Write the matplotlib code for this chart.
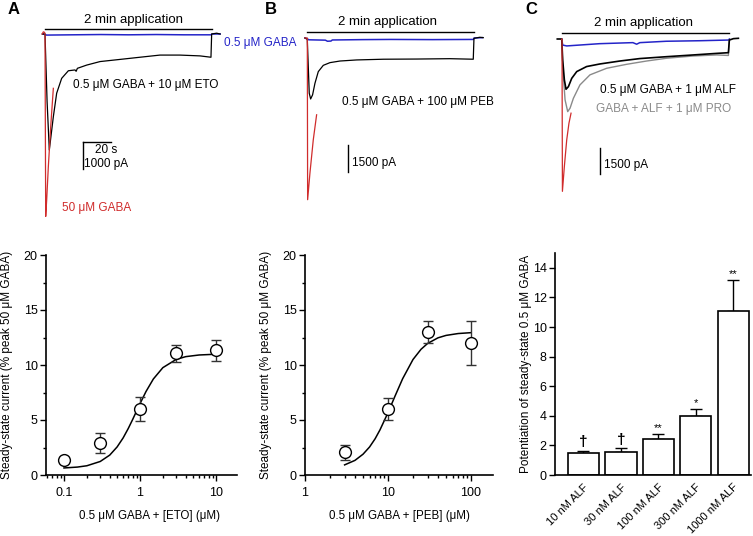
import matplotlib
matplotlib.use("Agg")
import matplotlib.pyplot as plt
from matplotlib.ticker import LogLocator, MultipleLocator, NullFormatter, FixedLocator, FixedFormatter

plt.rcParams['font.family'] = ['Liberation Sans', 'DejaVu Sans']
plt.rcParams['font.size'] = 8

W, H = 753, 536

BLUE = '#2424c8'
RED = '#d02c2c'
GREY = '#8a8a8a'

# ---- current traces: time (s), current (pA) ----
# panel A
a_blk_t = [-2, 0, 1.5, 3.1, 6.0, 8.4, 12.0, 16.8, 21.6, 22.4, 23.3, 30.0, 39.6, 54, 68.3, 82.7, 97, 111.5, 119.4, 119.9, 123.5, 126]
a_blk_i = [0, 0, -2500, -4290, -3060, -2190, -1640, -1360, -1330, -1380, -1270, -1150, -1020, -940, -860, -780, -780, -810, -860, 0, 30, 0]
a_red_t = [-2, -1.2, -0.3, 0, 0.5, 1.2, 2.4, 4.1, 6.0]
a_red_i = [0, 80, 60, 0, -6750, -6140, -4910, -3430, -2010]
a_blu_t = [-1.5, 0, 1, 20, 40, 60, 80, 100, 119.5, 120, 126]
a_blu_i = [0, -10, -40, -30, -20, -30, -20, -30, -30, 0, 0]

# panel B
b_blk_t = [-1.7, 0, 0.7, 1.4, 2.4, 3.8, 5.5, 7.9, 11.5, 16.3, 23.5, 35.5, 54.7, 78.7, 102.6, 119.4, 119.9, 124, 126.6]
b_blk_i = [0, -70, -1590, -3070, -3390, -3160, -2520, -1870, -1520, -1370, -1280, -1220, -1180, -1170, -1150, -1180, -20, 40, 20]
b_red_t = [-1.7, 0, 0.24, 1.9, 4.3, 6.7]
b_red_i = [0, 0, -8990, -7510, -5660, -4270]
b_blu_t = [-1.7, 0, 1, 13, 14.5, 17, 18, 40, 60, 90, 119.5, 120, 126]
b_blu_i = [0, -40, -100, -120, -180, -170, -110, -90, -80, -90, -80, 0, 20]

# panel C
c_blk_t = [-3.4, -0.2, 0.5, 1.7, 2.9, 4.6, 7.0, 10.6, 17.7, 27.3, 41.7, 55.9, 75.3, 94.5, 111.3, 119.7, 120.4, 123.3, 126.9]
c_blk_i = [0, 0, -1210, -2360, -2900, -2750, -2270, -1880, -1590, -1440, -1270, -1130, -1020, -920, -830, -790, -60, 20, 40]
c_gry_t = [-0.2, 0.5, 2.2, 4.1, 5.8, 8.2, 12.9, 20.1, 32.1, 46.5, 60.9, 75.3, 94.5, 111.3, 119.7, 120.4]
c_gry_i = [0, -1590, -3510, -4190, -3990, -3420, -2650, -2070, -1690, -1460, -1270, -1110, -980, -920, -950, -60]
c_red_t = [-0.2, 0, 0.3, 1.7, 3.4, 5.0, 6.5]
c_red_i = [0, 0, -8790, -7350, -5820, -4860, -4280]
c_blu_t = [-0.2, 0.5, 3.4, 27, 51, 53.7, 56, 75, 99, 119.7, 120.4]
c_blu_i = [0, -350, -400, -270, -210, -300, -210, -130, -100, -60, 0]

# ---- concentration-response data ----
eto_conc = [0.1, 0.3, 1, 3, 10]
eto_mean = [1.35, 2.9, 6.0, 11.05, 11.35]
eto_sem = [0.3, 0.9, 1.1, 0.8, 0.95]
eto_fit_x = [0.1, 0.15, 0.2, 0.3, 0.4, 0.5, 0.6, 0.7, 0.8, 1.0, 1.2, 1.5, 2, 3, 4, 6, 10]
eto_fit_y = [0.64, 0.72, 0.84, 1.23, 1.81, 2.55, 3.37, 4.22, 5.04, 6.48, 7.59, 8.73, 9.76, 10.51, 10.76, 10.91, 10.98]

peb_conc = [3, 10, 30, 100]
peb_mean = [2.05, 6.0, 12.97, 12.0]
peb_sem = [0.65, 1.03, 1.0, 2.0]
peb_fit_x = [3, 4, 5, 6, 7, 8, 10, 12, 15, 20, 25, 30, 40, 50, 70, 100]
peb_fit_y = [0.92, 1.33, 1.89, 2.55, 3.30, 4.10, 5.67, 7.08, 8.75, 10.5, 11.43, 11.96, 12.47, 12.69, 12.86, 12.94]

alf_labels = ['10 nM ALF', '30 nM ALF', '100 nM ALF', '300 nM ALF', '1000 nM ALF']
alf_mean = [1.47, 1.53, 2.42, 4.02, 11.06]
alf_sem = [0.16, 0.28, 0.33, 0.43, 2.1]
alf_sig = ['\u2020', '\u2020', '**', '*', '**']


def fx(p):
    return p / W


def fy(p):
    return 1 - p / H


fig = plt.figure(figsize=(W / 100, H / 100), dpi=100)


def trace_axes(x0, x1, t0px, base_px, pa_per_px):
    ax = fig.add_axes([fx(x0), fy(230), (x1 - x0) / W, 230 / H])
    ax.set_xlim((x0 - t0px) / 1.39, (x1 - t0px) / 1.39)
    ax.set_ylim(-(230 - base_px) * pa_per_px, base_px * pa_per_px)
    ax.axis('off')
    return ax


# ---------------- traces ----------------
tA = trace_axes(0, 250, 45, 34, 37.0)
tA.plot(a_blu_t, a_blu_i, color=BLUE, lw=1.1)
tA.plot(a_blk_t, a_blk_i, color='black', lw=0.9)
tA.plot(a_red_t, a_red_i, color=RED, lw=0.9)
tA.plot([0, 120], [185, 185], color='black', lw=1)
tA.plot([27.3, 47.3], [-4000, -4000], color='black', lw=1)
tA.plot([27.3, 27.3], [-4000, -5000], color='black', lw=1)

tB = trace_axes(250, 500, 307.3, 38, 55.6)
tB.plot(b_blu_t, b_blu_i, color=BLUE, lw=1.1)
tB.plot(b_blk_t, b_blk_i, color='black', lw=0.9)
tB.plot(b_red_t, b_red_i, color=RED, lw=0.9)
tB.plot([0, 120], [334, 334], color='black', lw=1)
tB.plot([29.3, 29.3], [-5950, -7450], color='black', lw=1)

tC = trace_axes(500, 753, 562, 39, 57.7)
tC.plot(c_blu_t, c_blu_i, color=BLUE, lw=1.1)
tC.plot(c_gry_t, c_gry_i, color=GREY, lw=1.0)
tC.plot(c_blk_t, c_blk_i, color='black', lw=1.2)
tC.plot(c_red_t, c_red_i, color=RED, lw=0.9)
tC.plot([0, 120], [346, 346], color='black', lw=1)
tC.plot([27.3, 27.3], [-6290, -7790], color='black', lw=1)

# trace labels
for x, y in [(133, 20), (388, 22), (643, 23)]:
    fig.text(fx(x), fy(y), '2 min application', ha='center', va='center', fontsize=9.5)
fig.text(fx(224), fy(43), '0.5 \u03bcM GABA', color=BLUE, va='center', fontsize=8.5)
fig.text(fx(73), fy(85), '0.5 \u03bcM GABA + 10 \u03bcM ETO', va='center', fontsize=8.5)
fig.text(fx(62), fy(208), '50 \u03bcM GABA', color=RED, va='center', fontsize=8.5)
fig.text(fx(95), fy(150), '20 s', va='center', fontsize=8.5)
fig.text(fx(84), fy(164), '1000 pA', va='center', fontsize=8.5)
fig.text(fx(342), fy(102), '0.5 \u03bcM GABA + 100 \u03bcM PEB', va='center', fontsize=8.5)
fig.text(fx(352), fy(163), '1500 pA', va='center', fontsize=8.5)
fig.text(fx(600), fy(90), '0.5 \u03bcM GABA + 1 \u03bcM ALF', va='center', fontsize=8.5)
fig.text(fx(596), fy(109), 'GABA + ALF + 1 \u03bcM PRO', color=GREY, va='center', fontsize=8.5)
fig.text(fx(604), fy(165), '1500 pA', va='center', fontsize=8.5)

for x, y, s in [(8, 9, 'A'), (265, 9, 'B'), (525, 10, 'C')]:
    fig.text(fx(x), fy(y), s, fontsize=12, fontweight='bold', va='center')


# ---------------- dose-response panels ----------------
def style_axes(ax):
    for s in ['top', 'right']:
        ax.spines[s].set_visible(False)
    for s in ['left', 'bottom']:
        ax.spines[s].set_linewidth(1.2)
    ax.tick_params(which='major', direction='out', length=4, width=1, labelsize=9, pad=2)
    ax.tick_params(which='minor', direction='out', length=2.5, width=1)
    ax.tick_params(axis='x', which='major', pad=5)


ylab = 'Steady-state current (% peak 50 \u03bcM GABA)'

axA = fig.add_axes([fx(46), fy(475), 191 / W, 220 / H])
style_axes(axA)
axA.set_xscale('log')
axA.plot(eto_fit_x, eto_fit_y, color='black', lw=1.1)
axA.errorbar(eto_conc, eto_mean, yerr=eto_sem, fmt='o', ms=8.5, mfc='white', mec='black',
             mew=1, ecolor='#333333', elinewidth=1, capsize=3.5, zorder=3)
axA.set_xlim(0.058, 18.9)
axA.set_ylim(0, 20)
axA.xaxis.set_major_locator(FixedLocator([0.1, 1, 10]))
axA.xaxis.set_major_formatter(FixedFormatter(['0.1', '1', '10']))
axA.xaxis.set_minor_locator(LogLocator(base=10, subs=range(2, 10), numticks=10))
axA.xaxis.set_minor_formatter(NullFormatter())
axA.yaxis.set_major_locator(MultipleLocator(5))
axA.yaxis.set_minor_locator(MultipleLocator(2.5))
axA.set_ylabel(ylab, fontsize=8.5)
axA.set_xlabel('0.5 \u03bcM GABA + [ETO] (\u03bcM)', fontsize=8.3)
axA.yaxis.set_label_coords(-0.175, 0.5)
axA.xaxis.set_label_coords(0.54, -0.16)

axB = fig.add_axes([fx(305), fy(475), 188 / W, 220 / H])
style_axes(axB)
axB.set_xscale('log')
axB.plot(peb_fit_x, peb_fit_y, color='black', lw=1.1)
axB.errorbar(peb_conc, peb_mean, yerr=peb_sem, fmt='o', ms=8.5, mfc='white', mec='black',
             mew=1, ecolor='#333333', elinewidth=1, capsize=3.5, zorder=3)
axB.set_xlim(1, 184)
axB.set_ylim(0, 20)
axB.xaxis.set_major_locator(FixedLocator([1, 10, 100]))
axB.xaxis.set_major_formatter(FixedFormatter(['1', '10', '100']))
axB.xaxis.set_minor_locator(LogLocator(base=10, subs=range(2, 10), numticks=10))
axB.xaxis.set_minor_formatter(NullFormatter())
axB.yaxis.set_major_locator(MultipleLocator(5))
axB.yaxis.set_minor_locator(MultipleLocator(2.5))
axB.set_ylabel(ylab, fontsize=8.5)
axB.set_xlabel('0.5 \u03bcM GABA + [PEB] (\u03bcM)', fontsize=8.3)
axB.yaxis.set_label_coords(-0.176, 0.5)
axB.xaxis.set_label_coords(0.5, -0.16)

axC = fig.add_axes([fx(555), fy(475), 196 / W, 222 / H])
style_axes(axC)
xs = list(range(len(alf_labels)))
axC.bar(xs, alf_mean, width=0.83, color='white', edgecolor='black', lw=1.2, zorder=2)
axC.errorbar(xs, alf_mean, yerr=[[0] * len(xs), alf_sem], fmt='none', ecolor='black',
             elinewidth=1, capsize=4, capthick=1, zorder=1)
for x, m, e, s in zip(xs, alf_mean, alf_sem, alf_sig):
    dag = s == '\u2020'
    axC.annotate(s, (x, m + e), xytext=(0, 1), textcoords='offset points',
                 ha='center', va='bottom', fontsize=11 if dag else 8,
                 fontweight='bold' if dag else 'normal')
axC.set_xlim(-0.76, 4.47)
axC.set_ylim(0, 15)
axC.set_yticks(range(0, 15, 2))
axC.set_xticks(xs)
axC.set_xticklabels(alf_labels, rotation=45, ha='right', rotation_mode='anchor', fontsize=8)
axC.tick_params(axis='x', length=0, pad=5)
axC.set_ylabel('Potentiation of steady-state 0.5 \u03bcM GABA', fontsize=8.5)
axC.yaxis.set_label_coords(-0.115, 0.5)

fig.savefig('out.png', dpi=100)
